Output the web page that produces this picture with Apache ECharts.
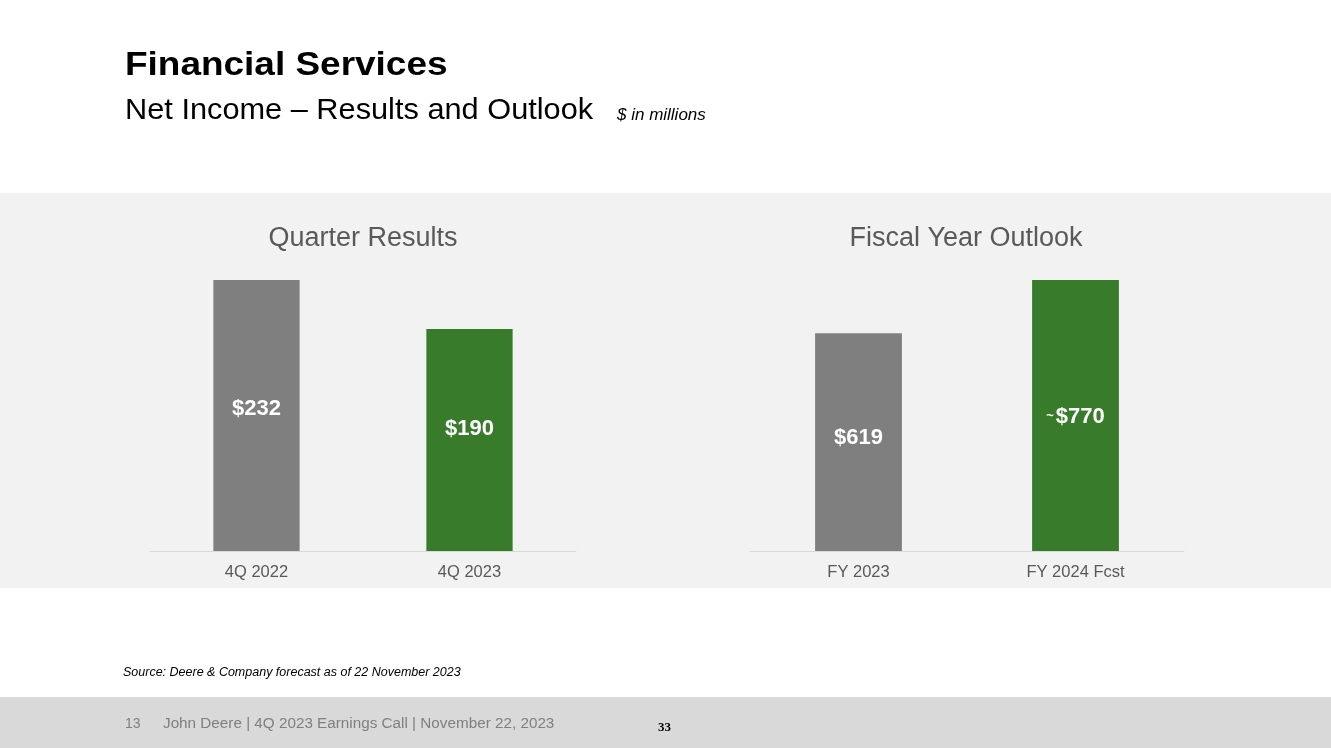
<!DOCTYPE html>
<html>
<head>
<meta charset="utf-8">
<script src="https://cdn.jsdelivr.net/npm/echarts@6/dist/echarts.min.js"></script>
<style>
html,body{margin:0;padding:0;background:#ffffff;}
#chart{width:1331px;height:748px;}
</style>
</head>
<body>
<div id="chart"></div>
<script>
// ---- data ----
var quarterCategories = ['4Q 2022', '4Q 2023'];
var quarterValues = [232, 190];
var quarterLabels = ['$232', '$190'];

var yearCategories = ['FY 2023', 'FY 2024 Fcst'];
var yearValues = [619, 770];
var yearLabels = ['$619', '{t|~}$770'];

// ---- styles (not data) ----
var barColors = ['#7f7f7f', '#387c2b'];
var quarterLabelOffsets = [[0, -7], [0, -11]];
var yearLabelOffsets = [[0, -4], [0, 1]];
var FONT = '"Liberation Sans", Arial, sans-serif';

function buildItems(values, labels, offsets) {
  return values.map(function (v, i) {
    return {
      value: v,
      itemStyle: { color: barColors[i] },
      label: { formatter: labels[i], offset: offsets[i] }
    };
  });
}

var labelStyle = {
  show: true,
  position: 'inside',
  color: '#ffffff',
  fontFamily: FONT,
  fontWeight: 'bold',
  fontSize: 22,
  rich: { t: { fontSize: 13, color: '#ffffff', fontFamily: FONT, padding: [0, 2, 0, 0] } }
};

var chart = echarts.init(document.getElementById('chart'), null, { renderer: 'canvas' });

var option = {
  backgroundColor: '#ffffff',
  animation: false,
  graphic: [
    { type: 'rect', z: -10, shape: { x: 0, y: 193, width: 1331, height: 395 }, style: { fill: '#f2f2f2' }, silent: true },
    { type: 'rect', z: -10, shape: { x: 0, y: 697, width: 1331, height: 51 }, style: { fill: '#d9d9d9' }, silent: true },
    { type: 'text', x: 125, y: 49, scaleX: 1.087, style: { text: 'Financial Services', font: 'bold 34px ' + FONT, fill: '#000000', verticalAlign: 'top' } },
    { type: 'text', x: 125, y: 96, scaleX: 1.06, style: { text: 'Net Income \u2013 Results and Outlook', font: '29px ' + FONT, fill: '#000000', verticalAlign: 'top' } },
    { type: 'text', x: 617, y: 106.5, style: { text: '$ in millions', font: 'italic 17px ' + FONT, fill: '#000000', verticalAlign: 'top' } },
    { type: 'text', x: 123, y: 666, style: { text: 'Source: Deere & Company forecast as of 22 November 2023', font: 'italic 12.5px ' + FONT, fill: '#000000', verticalAlign: 'top' } },
    { type: 'text', x: 125, y: 717, style: { text: '13', font: '14px ' + FONT, fill: '#7f7f7f', verticalAlign: 'top' } },
    { type: 'text', x: 163, y: 717, scaleX: 1.09, style: { text: 'John Deere | 4Q 2023 Earnings Call | November 22, 2023', font: '14px ' + FONT, fill: '#7f7f7f', verticalAlign: 'top' } },
    { type: 'text', x: 658, y: 721, style: { text: '33', font: 'bold 13px "Liberation Serif", "Times New Roman", serif', fill: '#000000', verticalAlign: 'top' } }
  ],
  title: [
    { text: 'Quarter Results', left: 358, top: 220, textAlign: 'center',
      textStyle: { fontFamily: FONT, fontSize: 27, fontWeight: 'normal', color: '#595959' } },
    { text: 'Fiscal Year Outlook', left: 961, top: 220, textAlign: 'center',
      textStyle: { fontFamily: FONT, fontSize: 27, fontWeight: 'normal', color: '#595959' } }
  ],
  grid: [
    { left: 150, top: 280, width: 426, height: 271 },
    { left: 750, top: 280, width: 434, height: 271 }
  ],
  xAxis: [
    { type: 'category', gridIndex: 0, data: quarterCategories,
      axisLine: { lineStyle: { color: '#d9d9d9', width: 1 } }, axisTick: { show: false },
      axisLabel: { color: '#595959', fontFamily: FONT, fontSize: 16.5, margin: 13 } },
    { type: 'category', gridIndex: 1, data: yearCategories,
      axisLine: { lineStyle: { color: '#d9d9d9', width: 1 } }, axisTick: { show: false },
      axisLabel: { color: '#595959', fontFamily: FONT, fontSize: 16.5, margin: 13 } }
  ],
  yAxis: [
    { type: 'value', gridIndex: 0, min: 0, max: 232, show: false, splitLine: { show: false } },
    { type: 'value', gridIndex: 1, min: 0, max: 770, show: false, splitLine: { show: false } }
  ],
  series: [
    { type: 'bar', xAxisIndex: 0, yAxisIndex: 0, barWidth: '40.5%',
      data: buildItems(quarterValues, quarterLabels, quarterLabelOffsets), label: labelStyle },
    { type: 'bar', xAxisIndex: 1, yAxisIndex: 1, barWidth: '40%',
      data: buildItems(yearValues, yearLabels, yearLabelOffsets), label: labelStyle }
  ]
};
chart.setOption(option);
</script>
</body>
</html>
